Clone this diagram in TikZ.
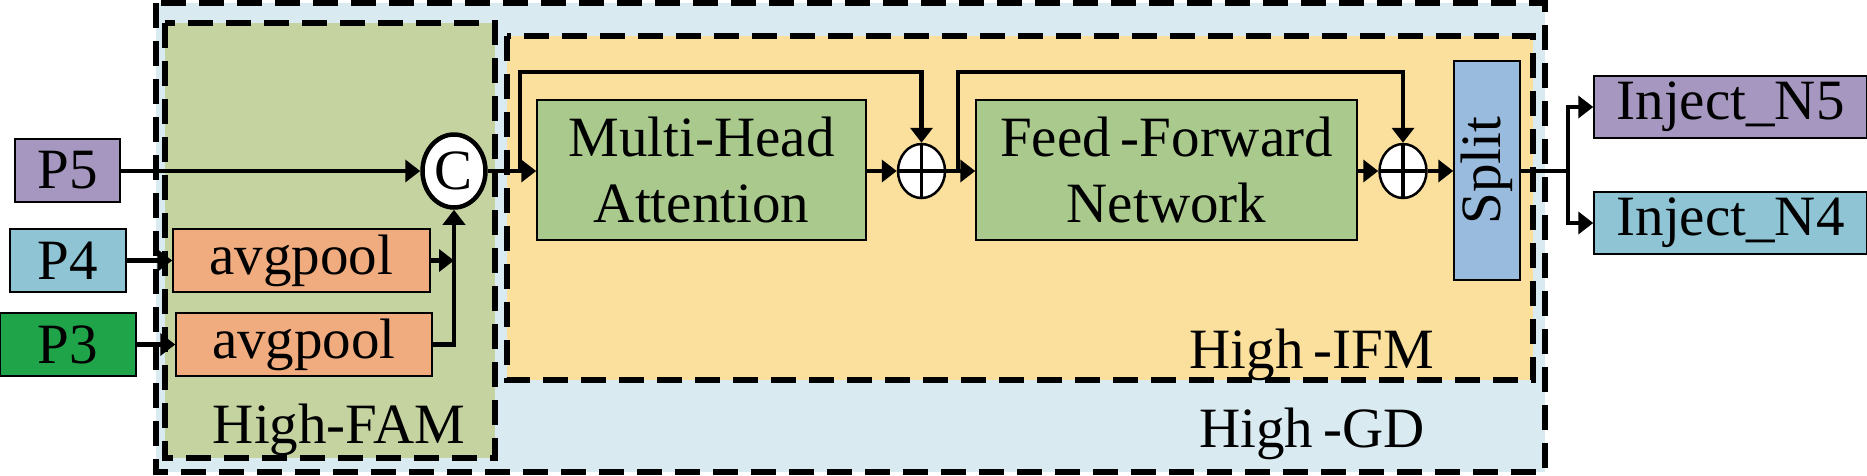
\documentclass[tikz,border=0pt]{standalone}
\usepackage{fontspec}
\setmainfont{Liberation Serif}
\usetikzlibrary{arrows.meta,shapes.geometric,calc}
\definecolor{gdfill}{RGB}{217,234,241}
\definecolor{famfill}{RGB}{196,211,160}
\definecolor{ifmfill}{RGB}{250,224,156}
\definecolor{blockfill}{RGB}{169,201,141}
\definecolor{poolfill}{RGB}{240,171,126}
\definecolor{purp}{RGB}{166,151,192}
\definecolor{teal}{RGB}{142,196,212}
\definecolor{grn}{RGB}{32,164,74}
\definecolor{splitfill}{RGB}{153,187,222}
\begin{document}
\begin{tikzpicture}[x=1pt,y=-1pt,
  every node/.style={font=\fontsize{57}{66}\selectfont},
  box/.style={draw=black,line width=1.5pt,inner sep=0pt,align=center,minimum width=#1},
  dbox/.style={draw=black,line width=6.5pt,dash pattern=on 25pt off 13pt},
  conn/.style={line width=4.5pt},
  arr/.style={line width=4.5pt,-{Triangle[length=15pt,width=22pt]}},
  cnode/.style={ellipse,draw=black,fill=white,line width=4.5pt,inner sep=0pt,minimum width=63pt,minimum height=73pt},
  pnode/.style={ellipse,draw=black,fill=white,line width=2.5pt,inner sep=0pt,minimum width=47pt,minimum height=54pt,
    path picture={\draw[line width=3.5pt] (path picture bounding box.north) -- (path picture bounding box.south)
      (path picture bounding box.west) -- (path picture bounding box.east);}},
  lbl/.style={anchor=base,inner sep=0pt}
]
\useasboundingbox (0,0) rectangle (1867,475);
% group backgrounds
\fill[gdfill] (156,3) rectangle (1545,472);
\fill[famfill] (165,23) rectangle (495,458);
\fill[ifmfill] (507,36) rectangle (1533,380);
\draw[dbox] (156,3) rectangle (1545,472);
\draw[dbox] (165,23) rectangle (495,458);
\draw[dbox] (507,36) rectangle (1533,380);
% labels
\node[lbl] (lfam) at (339,443) {High-FAM};
\node[lbl] (lifm) at (1312,368) {High\kern10pt-IFM};
\node[lbl] (lgd) at (1312,447) {High\kern10pt-GD};
% inputs
\node[box=105pt,fill=purp,minimum height=63pt] (p5) at (67.5,170.5) {P5};
\node[box=116pt,fill=teal,minimum height=63pt] (p4) at (68,260.5) {P4};
\node[box=136pt,fill=grn,minimum height=63pt] (p3) at (68,344.5) {P3};
% avgpool
\node[box=257pt,fill=poolfill,minimum height=63pt] (ap1) at (301.5,260.5) {avgpool};
\node[box=256pt,fill=poolfill,minimum height=63pt] (ap2) at (304,344.5) {avgpool};
% concat
\node[cnode] (c) at (454,171) {C};
% transformer blocks
\node[box=329pt,fill=blockfill,minimum height=140pt] (mha) at (701.5,170) {Multi-Head\\Attention};
\node[pnode] (pl1) at (921.5,171) {};
\node[box=381pt,fill=blockfill,minimum height=140pt] (ffn) at (1166.5,170) {Feed\kern10pt-Forward\\Network};
\node[pnode] (pl2) at (1403,171) {};
\node[box=66pt,fill=splitfill,minimum height=219pt] (split) at (1487,170.5) {};
\node[rotate=90,inner sep=0pt] (splittxt) at (split.center) {Split};
% outputs
\node[box=273pt,fill=purp,minimum height=62pt] (n5) at (1730.5,107) {Inject\_N5};
\node[box=273pt,fill=teal,minimum height=62pt] (n4) at (1730.5,223) {Inject\_N4};
% connectors
\draw[arr] (p5.east |- c.west) -- (c.west);
\draw[arr] (p4.east) -- (ap1.west);
\draw[arr] (p3.east) -- (ap2.west);
\coordinate (j1) at (c.south |- ap1.east);
\draw[arr] (ap1.east) -- (j1);
\draw[arr] (ap2.east) -| (c.south);
\draw[arr] (c.east) -- (mha.west |- c.east);
\coordinate (s1) at (520,171);
\draw[arr] (s1) -- (520,72) -| (pl1.north);
\draw[arr] (mha.east |- pl1.west) -- (pl1.west);
\draw[arr] (pl1.east) -- (ffn.west |- pl1.east);
\coordinate (s2) at (958,171);
\draw[arr] (s2) -- (958,72) -| (pl2.north);
\draw[arr] (ffn.east |- pl2.west) -- (pl2.west);
\draw[arr] (pl2.east) -- (split.west |- pl2.east);
\coordinate (br) at (1568,171);
\draw[conn] (split.east |- br) -- (br);
\draw[arr] (br) |- (n5.west);
\draw[arr] (br) |- (n4.west);
\end{tikzpicture}
\end{document}
